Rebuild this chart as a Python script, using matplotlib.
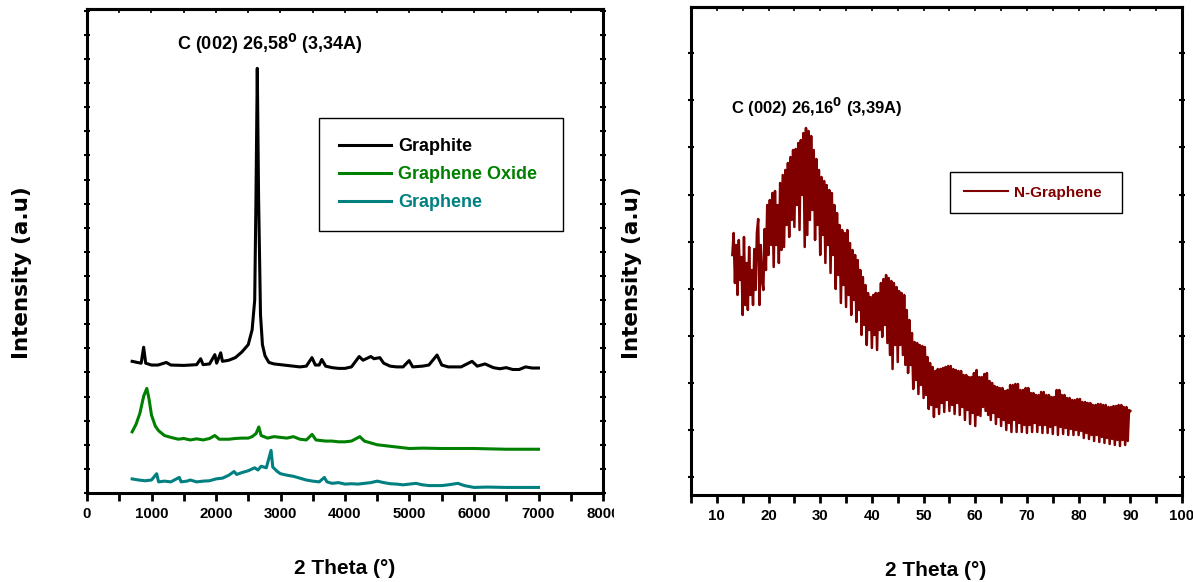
import numpy as np
import matplotlib
matplotlib.use("Agg")
import matplotlib.pyplot as plt
from matplotlib.ticker import MultipleLocator, FixedLocator
from matplotlib.patches import Rectangle

# values (left panel: x in the original units 0-8000, y in arbitrary units)
graphite_x = [700, 780, 840, 878, 910, 1000, 1100, 1230, 1300, 1500, 1700, 1762, 1800, 1900,
              1982, 2010, 2073, 2100, 2200, 2300, 2400, 2500, 2560, 2600, 2620, 2640, 2660,
              2690, 2720, 2760, 2820, 2900, 3000, 3100, 3200, 3300, 3400, 3488, 3540, 3600,
              3640, 3700, 3800, 3900, 4000, 4100, 4220, 4280, 4400, 4450, 4540, 4600, 4700,
              4800, 4900, 4994, 5050, 5200, 5300, 5427, 5500, 5600, 5800, 5970, 6050, 6171,
              6300, 6400, 6500, 6600, 6700, 6800, 6900, 7000]
graphite_y = [355, 352, 350, 393, 350, 345, 345, 352, 345, 344, 346, 362, 346, 348,
              373, 350, 378, 355, 358, 365, 380, 400, 440, 520, 800, 1145, 800,
              480, 400, 370, 352, 348, 346, 344, 342, 340, 342, 365, 345, 345,
              360, 342, 338, 336, 336, 340, 368, 358, 368, 362, 365, 350, 342,
              340, 340, 357, 340, 342, 345, 372, 345, 340, 340, 355, 342, 348,
              338, 335, 338, 333, 333, 340, 337, 337]

go_x = [700, 760, 820, 880, 927, 960, 1000, 1060, 1110, 1200, 1300, 1415, 1500, 1600, 1700,
        1800, 1900, 1982, 2050, 2200, 2300, 2400, 2500, 2560, 2620, 2664, 2700, 2800, 2900,
        3000, 3100, 3200, 3300, 3400, 3490, 3550, 3700, 3800, 3900, 4000, 4100, 4230, 4300,
        4400, 4500, 4700, 4900, 5000, 5200, 5500, 6000, 6500, 7000]
go_y = [165, 185, 215, 262, 282, 255, 210, 180, 168, 155, 150, 145, 147, 143, 146,
        143, 147, 155, 145, 145, 147, 148, 148, 152, 160, 178, 155, 148, 152,
        150, 148, 152, 145, 143, 158, 143, 140, 140, 138, 138, 140, 152, 140,
        135, 130, 126, 122, 120, 121, 120, 120, 118, 118]

graphene_x = [700, 800, 900, 1000, 1080, 1110, 1200, 1300, 1430, 1460, 1550, 1600, 1700, 1800,
              1900, 2000, 2100, 2200, 2280, 2320, 2400, 2500, 2600, 2650, 2700, 2780, 2854,
              2880, 2950, 3000, 3100, 3200, 3300, 3400, 3500, 3600, 3680, 3720, 3800, 3900,
              4000, 4100, 4200, 4300, 4400, 4500, 4600, 4700, 4800, 4900, 5000, 5100, 5200,
              5300, 5500, 5600, 5750, 5850, 6000, 6200, 6500, 6800, 7000]
graphene_y = [38, 35, 33, 35, 52, 30, 32, 30, 42, 30, 32, 35, 30, 32,
              33, 38, 40, 48, 58, 50, 55, 60, 68, 62, 72, 68, 115,
              70, 58, 52, 48, 45, 40, 35, 32, 30, 42, 30, 26, 28,
              24, 25, 24, 26, 28, 32, 28, 25, 24, 22, 24, 26, 22,
              20, 20, 22, 26, 20, 15, 16, 15, 15, 15]

# right panel: N-Graphene, 2theta from 13 to 90 every 0.25 deg (one group of 4 per degree)
ngr_y = [240, 262, 212, 250,  200, 255, 215, 238,  180, 258, 190, 232,  185, 248, 200, 225,
         190, 246, 205, 262,  276, 190, 250, 215,  205, 266, 225, 290,  240, 295, 250, 302,
         228, 304, 250, 290,  232, 312, 245, 320,  248, 325, 270, 332,  258, 338, 275, 345,
         268, 346, 290, 352,  265, 355, 300, 362,  248, 367, 260, 364,  275, 359, 285, 345,
         255, 336, 270, 325,  240, 318, 260, 314,  232, 310, 250, 305,  222, 302, 240, 290,
         206, 282, 220, 270,  192, 265, 210, 262,  188, 265, 200, 252,  180, 245, 195, 240,
         173, 235, 185, 225,  160, 218, 170, 210,  150, 202, 165, 198,  147, 200, 160, 202,
         145, 202, 165, 212,  158, 216, 170, 220,  152, 217, 140, 214,  126, 212, 150, 208,
         133, 204, 150, 202,  140, 200, 130, 185,  122, 175, 130, 162,  106, 153, 115, 152,
         101, 150, 110, 149,  97, 148, 100, 138,  86, 132, 90, 128,  78, 124, 88, 126,
         81, 126, 92, 127,  83, 128, 95, 129,  84, 129, 90, 126,  81, 125, 92, 124,
         80, 124, 88, 120,  75, 120, 85, 118,  71, 118, 82, 122,  69, 125, 80, 118,
         79, 118, 88, 121,  84, 122, 80, 114,  75, 112, 82, 109,  71, 108, 78, 107,
         69, 107, 75, 104,  65, 105, 72, 110,  63, 110, 75, 111,  63, 111, 72, 105,
         63, 105, 70, 107,  62, 107, 70, 102,  63, 102, 72, 100,  63, 100, 70, 103,
         62, 103, 70, 100,  62, 100, 68, 98,  61, 98, 70, 105,  60, 105, 68, 100,
         61, 100, 67, 97,  60, 97, 66, 95,  60, 95, 65, 96,  60, 96, 64, 93,
         57, 93, 62, 92,  56, 92, 60, 90,  54, 90, 60, 91,  53, 91, 58, 90,
         52, 90, 57, 88,  51, 88, 56, 89,  50, 89, 55, 90,  49, 90, 55, 88,
         50, 88, 54, 85,  84]
ngr_x = np.linspace(13, 90, len(ngr_y))

left_labels = ["Graphite", "Graphene Oxide", "Graphene"]
left_colors = ["#000000", "#008000", "#008080"]
ngr_color = "#800000"

plt.rcParams["font.family"] = ["Liberation Sans", "DejaVu Sans"]
plt.rcParams["font.weight"] = "bold"
narrow = ["Liberation Sans Narrow", "Liberation Sans", "DejaVu Sans"]

fig = plt.figure(figsize=(11.93, 5.82), dpi=100)
ax1 = fig.add_axes([87 / 1193, 89 / 582, 516 / 1193, 484 / 582])
ax2 = fig.add_axes([691 / 1193, 87 / 582, 491 / 1193, 488 / 582])


def style_axes(ax, major, minor):
    ax.xaxis.set_major_locator(MultipleLocator(major))
    ax.xaxis.set_minor_locator(MultipleLocator(minor))
    for sp in ax.spines.values():
        sp.set_linewidth(2.2)
    ax.tick_params(axis="x", which="both", direction="out", length=6, width=2,
                   labelsize=10.8, pad=4, top=False)
    ax.tick_params(axis="y", which="both", direction="inout", length=4, width=1.5,
                   left=True, right=True, labelleft=False)
    # tiny ticks along the top frame
    top = ax.secondary_xaxis("top")
    top.xaxis.set_major_locator(MultipleLocator(minor))
    top.tick_params(direction="in", length=3, width=1.2, labeltop=False)
    top.spines["top"].set_linewidth(2.2)


# left panel
xs = [graphite_x, go_x, graphene_x]
ys = [graphite_y, go_y, graphene_y]
for x, y, lab, col in zip(xs, ys, left_labels, left_colors):
    ax1.plot(x, y, color=col, lw=2.2, label=lab)
ax1.set_xlim(0, 8000)
ax1.set_ylim(0, 1305)
ax1.yaxis.set_major_locator(MultipleLocator(65))
style_axes(ax1, 1000, 500)
ax1.text(2835, 1210, "C (002) 26,58$^{0}$ (3,34A)", ha="center", va="center",
         fontsize=13, fontweight="bold", family=narrow)
leg1 = ax1.legend(loc="upper left", bbox_to_anchor=(0.449, 0.525, 0.473, 0.249),
                  mode="expand", borderaxespad=0, fancybox=False, framealpha=1,
                  edgecolor="black", handlelength=2.9, handletextpad=0.4,
                  borderpad=1.1, labelspacing=0.6, labelcolor="linecolor",
                  prop={"weight": "bold", "size": 13})
leg1.get_frame().set_linewidth(1.0)

# right panel
ax2.plot(ngr_x, ngr_y, color=ngr_color, lw=1.8, label="N-Graphene")
ax2.set_xlim(5, 100)
ax2.set_ylim(0, 488)
ax2.yaxis.set_major_locator(FixedLocator(np.arange(17.8, 488, 47.1)))
style_axes(ax2, 10, 5)
ax2.text(29.3, 388, "C (002) 26,16$^{0}$ (3,39A)", ha="center", va="center",
         fontsize=12, fontweight="bold", family=narrow)
leg2 = ax2.legend(loc="upper left", bbox_to_anchor=(0.528, 0.576, 0.35, 0.086),
                  mode="expand", borderaxespad=0, fancybox=False, framealpha=1,
                  edgecolor="black", handlelength=2.9, handletextpad=0.4,
                  borderpad=0.9, labelcolor="linecolor",
                  prop={"weight": "bold", "size": 11})
leg2.get_frame().set_linewidth(1.0)
for line in leg2.get_lines():
    line.set_linewidth(1.5)

# axis titles
for xc in (22 / 1193, 632 / 1193):
    fig.text(xc, 0.531, "Intensity (a.u)", rotation=90, ha="center", va="center",
             fontsize=15.5, fontweight="bold", family="DejaVu Sans")
fig.text(345 / 1193, 1 - 568 / 582, "2 Theta (°)", ha="center", va="center",
         fontsize=15, fontweight="bold")
fig.text(936 / 1193, 1 - 570 / 582, "2 Theta (°)", ha="center", va="center",
         fontsize=15, fontweight="bold")

# the right picture overlaps the "8000" label in the original
fig.patches.append(Rectangle((614 / 1193, 0.08), 0.055, 0.06, transform=fig.transFigure,
                             facecolor="white", edgecolor="none", zorder=10))

fig.savefig("out.png", dpi=100)
